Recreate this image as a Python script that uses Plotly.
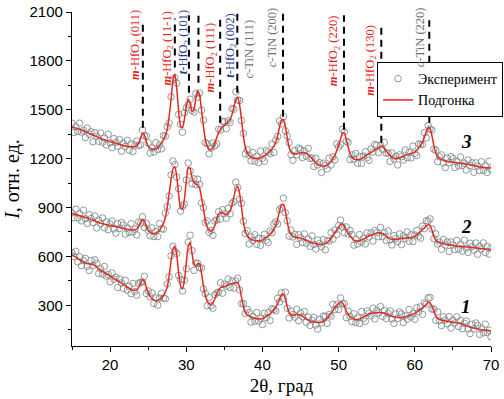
import plotly.graph_objects as go

# 2theta grid (deg), step 0.25
two_theta = [15 + 0.25 * i for i in range(221)]

# Fitted curves
fit3 = [1395,1391,1388,1384,1380,1375,1370,1365,1360,1355,1350,1345,1340,1335,1330,1325,
        1320,1316,1312,1309,1305,1301,1298,1294,1290,1287,1284,1281,1278,1276,1274,1273,
        1272,1275,1280,1295,1325,1355,1345,1305,1275,1265,1258,1258,1260,1268,1280,1296,
        1315,1343,1380,1460,1560,1680,1720,1630,1490,1400,1390,1440,1520,1565,1540,1490,
        1500,1570,1615,1590,1500,1400,1320,1275,1258,1255,1268,1295,1330,1360,1380,1395,
        1405,1415,1425,1440,1470,1515,1560,1575,1530,1440,1340,1270,1235,1218,1210,1205,
        1203,1203,1203,1206,1210,1217,1225,1235,1245,1260,1275,1300,1340,1395,1435,1440,
        1400,1330,1270,1240,1230,1229,1228,1231,1235,1237,1238,1232,1225,1213,1200,1188,
        1175,1167,1160,1156,1153,1156,1160,1170,1180,1200,1220,1250,1280,1320,1355,1358,
        1320,1270,1232,1210,1198,1195,1193,1196,1200,1207,1215,1223,1230,1238,1245,1253,
        1260,1268,1275,1275,1262,1246,1230,1219,1208,1204,1200,1202,1205,1210,1215,1220,
        1225,1228,1232,1236,1240,1252,1265,1282,1300,1330,1365,1390,1385,1340,1280,1235,
        1210,1202,1195,1190,1185,1182,1180,1179,1178,1176,1175,1173,1172,1170,1168,1166,
        1165,1162,1160,1157,1155,1152,1150,1148,1147,1145,1144,1143,1142]
fit2 = [865,861,857,854,850,846,843,839,835,831,827,822,818,813,809,804,
        800,798,795,793,790,788,785,783,780,777,774,771,768,766,764,763,
        762,764,768,785,810,828,818,785,758,750,742,741,742,750,760,778,
        800,840,900,985,1070,1135,1150,1090,980,900,890,950,1060,1145,1140,1085,
        1055,1045,1040,1020,960,890,825,780,760,755,765,790,830,860,870,868,
        860,858,862,880,915,965,1015,1030,985,900,810,755,728,714,706,700,
        697,696,695,697,700,707,715,725,735,750,765,790,830,880,915,920,
        880,815,760,735,725,720,715,714,712,709,705,700,695,690,685,681,
        678,675,673,673,673,678,685,697,710,727,745,763,780,795,798,785,
        760,742,725,712,700,696,693,696,700,706,712,718,725,730,735,739,
        743,745,745,740,735,725,715,709,703,703,703,705,708,710,712,713,
        714,715,716,719,722,731,740,752,765,775,785,795,790,760,725,700,
        688,684,680,677,675,673,671,670,668,666,665,663,662,661,659,658,
        657,656,654,653,652,651,649,648,647,646,644,643,643]
fit1 = [610,602,595,588,580,572,565,560,555,554,553,549,545,535,525,516,
        508,500,492,486,480,472,465,457,450,442,435,427,420,412,405,399,
        393,392,395,410,435,457,448,410,375,355,340,333,328,330,335,345,
        360,380,410,480,570,640,662,610,500,420,400,450,560,660,685,620,
        555,540,555,555,495,420,360,325,308,305,315,340,370,395,408,412,
        415,420,425,430,432,435,440,438,410,350,290,255,240,234,228,224,
        220,217,215,216,218,224,230,239,248,260,272,290,310,340,365,368,
        340,290,255,240,238,241,245,243,240,232,225,218,210,205,200,198,
        195,194,193,196,200,210,220,235,250,268,285,298,310,318,315,295,
        265,245,230,222,215,213,212,216,220,228,235,240,245,249,252,254,
        255,256,256,254,252,247,242,237,232,229,226,225,224,224,225,228,
        232,236,240,245,250,258,265,275,285,295,305,318,315,295,265,235,
        218,213,208,205,203,201,200,198,196,194,193,191,190,185,180,175,
        170,166,162,160,157,155,152,150,148,146,145,143,142]

exp3 = [1417,1360,1396,1367,1418,1363,1374,1329,1387,1349,1365,1304,1359,1337,1306,1358,
        1301,1327,1284,1350,1297,1268,1323,1300,1276,1317,1246,1294,1275,1312,1252,1290,
        1243,1284,1308,1279,1285,1376,1340,1339,1297,1234,1266,1241,1298,1256,1284,1260,
        1342,1337,1395,1419,1579,1682,1696,1663,1471,1411,1362,1481,1512,1532,1565,1496,
        1486,1600,1577,1603,1497,1436,1298,1292,1229,1264,1296,1279,1290,1381,1375,1429,
        1427,1384,1433,1423,1508,1503,1610,1560,1557,1434,1355,1229,1254,1220,1186,1238,
        1184,1214,1175,1247,1202,1184,1250,1241,1231,1290,1237,1313,1337,1431,1413,1457,
        1371,1339,1298,1224,1190,1250,1223,1265,1257,1206,1246,1215,1263,1201,1204,1152,
        1202,1161,1175,1115,1172,1158,1136,1203,1161,1211,1192,1291,1272,1287,1380,1364,
        1306,1300,1194,1223,1195,1231,1171,1213,1171,1216,1243,1207,1190,1259,1240,1287,
        1282,1237,1283,1258,1300,1234,1234,1183,1235,1198,1215,1161,1224,1212,1191,1253,
        1206,1239,1204,1277,1232,1219,1290,1288,1286,1360,1327,1403,1382,1376,1258,1252,
        1181,1211,1223,1174,1145,1203,1175,1213,1200,1145,1183,1156,1210,1158,1172,1130,
        1192,1156,1175,1116,1174,1154,1126,1181,1128,1156,1116,1184,1134]
exp2 = [867,837,890,835,861,818,884,831,802,856,833,808,848,775,822,801,
        836,776,812,764,799,816,769,743,801,772,808,793,737,774,747,801,
        750,768,732,812,804,843,777,804,760,726,775,722,753,722,801,770,
        767,865,906,971,1100,1185,1163,1087,1016,878,907,921,1069,1173,1124,1045,
        1076,1040,1074,1042,929,898,808,818,748,759,729,817,824,875,829,887,
        862,834,895,861,926,937,1056,1022,952,925,816,741,758,676,719,697,
        733,674,712,668,709,735,699,685,756,745,799,812,799,888,898,958,
        868,819,724,762,719,735,674,733,714,685,738,681,706,662,726,673,
        645,700,679,659,703,640,698,694,746,705,762,734,789,823,782,745,
        781,737,759,734,669,704,676,734,688,710,676,745,719,745,694,758,
        745,721,778,721,746,697,756,701,670,728,709,691,738,672,725,710,
        750,693,733,690,731,759,724,712,786,770,819,817,830,768,708,738,
        676,688,644,704,669,688,630,689,670,642,698,644,673,633,700,650,
        624,681,660,639,682,613,662,645,683,624,661,614,652]
exp1 = [623,599,631,566,597,543,574,588,539,514,574,544,579,557,494,524,
        491,538,480,490,444,499,459,472,409,461,437,403,453,393,416,371,
        434,384,362,435,441,443,478,372,388,352,376,311,345,301,344,373,
        344,340,431,475,604,662,631,618,483,458,388,454,524,687,730,635,
        514,559,557,531,528,401,371,297,349,297,282,365,376,381,438,374,
        428,417,461,408,449,406,449,466,394,310,311,250,274,256,197,232,
        203,255,203,220,182,251,224,254,207,279,274,266,343,321,376,340,
        381,282,222,265,244,227,275,205,253,229,261,196,227,176,209,226,
        179,154,214,191,234,232,189,243,233,306,273,302,274,345,309,310,
        224,264,232,198,248,194,223,188,261,220,202,265,251,235,282,216,
        268,253,292,232,269,218,251,265,216,189,247,220,258,246,194,236,
        215,274,228,249,214,285,259,290,244,314,307,345,348,276,276,207,
        259,205,175,230,209,187,230,160,209,191,229,169,207,156,189,203,
        154,126,183,155,191,177,121,158,131,184,133,147,106]

# Reference lines (positions in 2theta, extents in intensity units)
peak_pos = [24.3, 28.5, 30.35, 31.6, 34.45, 36.7, 42.7, 50.7, 55.6, 61.9]
peak_top = [2050, 2060, 2080, 2080, 2080, 2090, 2090, 2080, 2030, 2050]
peak_bottom = [1390, 1760, 1604, 1665, 1420, 1604, 1457, 1378, 1298, 1420]
# Phase labels (x in 2theta, top in fraction of plot height)
label_x = [23.40, 27.55, 29.73, 33.31, 35.84, 38.23, 41.30, 49.36, 54.16, 60.7]
label_top = [1.012, 1.006, 1.012, 0.976, 1.0, 0.985, 1.021, 0.997, 0.967, 1.021]
label_text = ["<b><i>m</i></b>-HfO<sub>2</sub> (011)",
              "<b><i>m</i></b>-HfO<sub>2</sub> (11-1)",
              "<b><i>t</i></b>-HfO<sub>2</sub> (101)",
              "<b><i>m</i></b>-HfO<sub>2</sub> (111)",
              "<b><i>t</i></b>-HfO<sub>2</sub> (002)",
              "<i>c</i>-TiN (111)",
              "<i>c</i>-TiN (200)",
              "<b><i>m</i></b>-HfO<sub>2</sub> (220)",
              "<b><i>m</i></b>-HfO<sub>2</sub> (130)",
              "<i>c</i>-TiN (220)"]
label_phase = ["m", "m", "t", "m", "t", "c", "c", "m", "m", "c"]
phase_color = {"m": "#e2231a", "t": "#2b3a8f", "c": "#707070"}

curve_names = ["3", "2", "1"]
curve_name_x = [66.8, 66.8, 66.7]
curve_name_y = [1306, 785, 292]

EXP_COLOR = "#7b8888"
FIT_COLOR = "#e42a20"
SERIF = "Liberation Serif"
SANS = "Liberation Sans"

fig = go.Figure()
for i, e in enumerate([exp3, exp2, exp1]):
    fig.add_trace(go.Scatter(
        x=two_theta, y=e, mode="markers", name="Эксперимент",
        marker=dict(symbol="circle-open", size=6.5, color=EXP_COLOR,
                    line=dict(width=0.85, color=EXP_COLOR)),
        showlegend=(i == 0), legendrank=1))
for i, f in enumerate([fit3, fit2, fit1]):
    fig.add_trace(go.Scatter(
        x=two_theta, y=f, mode="lines", name="Подгонка",
        line=dict(color=FIT_COLOR, width=1.5, shape="spline", smoothing=0.6),
        showlegend=(i == 0), legendrank=2))

for p, t, b in zip(peak_pos, peak_top, peak_bottom):
    fig.add_shape(type="line", xref="x", yref="y", x0=p, x1=p, y0=b, y1=t,
                  line=dict(color="black", width=2, dash="7px,5px"), layer="above")

for lx, lt, txt, ph in zip(label_x, label_top, label_text, label_phase):
    fig.add_annotation(x=lx, y=lt, xref="x", yref="paper", text=txt, showarrow=False,
                       textangle=-90, xanchor="center", yanchor="top",
                       font=dict(family=SERIF, size=12.5, color=phase_color[ph]))

for n, cx, cy in zip(curve_names, curve_name_x, curve_name_y):
    fig.add_annotation(x=cx, y=cy, xref="x", yref="y", text="<b><i>%s</i></b>" % n,
                       showarrow=False, font=dict(family=SERIF, size=19, color="black"))

fig.update_layout(
    width=504, height=399,
    margin=dict(l=72, r=13, t=12, b=53, autoexpand=False),
    paper_bgcolor="white", plot_bgcolor="white",
    showlegend=True,
    legend=dict(x=0.728, y=0.85, xanchor="left", yanchor="top",
                bgcolor="white", bordercolor="black", borderwidth=1,
                font=dict(family=SERIF, size=14, color="black"),
                itemsizing="trace", itemwidth=30, tracegroupgap=0),
    xaxis=dict(range=[15, 70], tick0=20, dtick=10, ticks="outside", ticklen=5,
               tickwidth=1, tickcolor="black", showline=True, linecolor="black",
               linewidth=1.2, showgrid=False, zeroline=False, automargin=False,
               minor=dict(dtick=5, tick0=15, ticks="outside", ticklen=3, tickcolor="black"),
               tickfont=dict(family=SANS, size=15, color="black"),
               title=dict(text="2θ, град", font=dict(family=SERIF, size=19, color="black"),
                          standoff=6)),
    yaxis=dict(range=[50, 2100], tick0=0, dtick=300, ticks="outside", ticklen=5,
               tickwidth=1, tickcolor="black", showline=True, linecolor="black",
               linewidth=1.2, showgrid=False, zeroline=False, automargin=False,
               minor=dict(dtick=150, tick0=0, ticks="outside", ticklen=3, tickcolor="black"),
               tickfont=dict(family=SANS, size=15, color="black"),
               title=dict(text="<i>I</i>, отн. ед.", font=dict(family=SERIF, size=20, color="black"),
                          standoff=4)),
)

fig.write_html("out.html", config={"displayModeBar": False},
               post_script="document.body.style.margin='0';")
